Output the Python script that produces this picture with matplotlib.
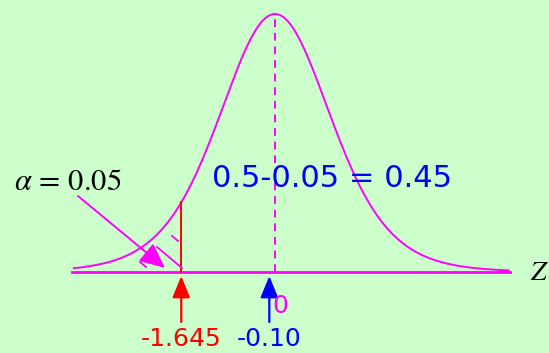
import numpy as np
import matplotlib.pyplot as plt

plt.rcParams['mathtext.fontset'] = 'stix'

# test values
alpha = 0.05
z_crit = -1.645
z_obs = -0.10
curve_lo, curve_hi = -3.53, 4.10
dof = 8  # slightly heavy tails

BG = '#CCFFCC'
MAG = '#FF00FF'

def density(z):
    return (1 + z**2 / dof) ** (-(dof + 1) / 2)

fig = plt.figure(figsize=(5.49, 3.53), dpi=100, facecolor=BG)
ax = fig.add_axes([0, 0, 1, 1])
ax.set_facecolor(BG)
ax.set_xlim(-275 / 57, 274 / 57)
ax.set_ylim(-81 / 258, 272 / 258)
ax.axis('off')

z = np.linspace(curve_lo, curve_hi, 400)
ax.plot(z, density(z), color=MAG, lw=1.4)
ax.plot([-3.56, 4.12], [0, 0], color=MAG, lw=2)
ax.plot([0, 0], [0, 1], color=MAG, lw=1.4, ls=(0, (4, 3)))

# rejection boundary
ax.plot([z_crit, z_crit], [0, density(z_crit)], color='red', lw=1.4)

# hatch marks in the tail
for (x0, y0), (x1, y1) in [((157, 247), (182, 268)), ((172, 236), (178, 241)),
                           ((140, 262), (146, 267))]:
    ax.plot([(x0 - 275) / 57, (x1 - 275) / 57], [(272 - y0) / 258, (272 - y1) / 258],
            color=MAG, lw=1.3)

# alpha label and pointer
ax.annotate('', xy=((165 - 275) / 57, 4 / 258), xytext=((78 - 275) / 57, 76 / 258),
            arrowprops=dict(arrowstyle='-|>,head_length=1.1,head_width=0.5',
                            color=MAG, lw=1.4, mutation_scale=14, shrinkA=0, shrinkB=0))
ax.text((14 - 275) / 57, (272 - 181) / 258, rf'$\alpha\,=\,{alpha:.2f}$', fontsize=22,
        color='black', ha='left', va='center')

ax.text((212 - 275) / 57, (272 - 178) / 258, '0.5-0.05 = 0.45', fontsize=22,
        color='#0000FF', ha='left', va='center')

# arrows under the axis
for zv, col in [(z_crit, 'red'), (z_obs, '#0000FF')]:
    ax.annotate('', xy=(zv, -4 / 258), xytext=(zv, -50 / 258),
                arrowprops=dict(arrowstyle='-|>,head_length=1.1,head_width=0.45',
                                color=col, lw=1.6, mutation_scale=12, shrinkA=0, shrinkB=0))
ax.text(z_crit, -(339 - 272) / 258, f'{z_crit:.3f}', fontsize=18, color='red',
        ha='center', va='center')
ax.text(z_obs, -(339 - 272) / 258, f'{z_obs:.2f}', fontsize=18, color='#0000FF',
        ha='center', va='center')
ax.text((272 - 275) / 57, -(306 - 272) / 258, '0', fontsize=18, color=MAG,
        ha='left', va='center')
ax.text((530 - 275) / 57, 0, '$Z$', fontsize=20, color='black', ha='left', va='center')

fig.savefig('out.png', dpi=100, facecolor=BG)
